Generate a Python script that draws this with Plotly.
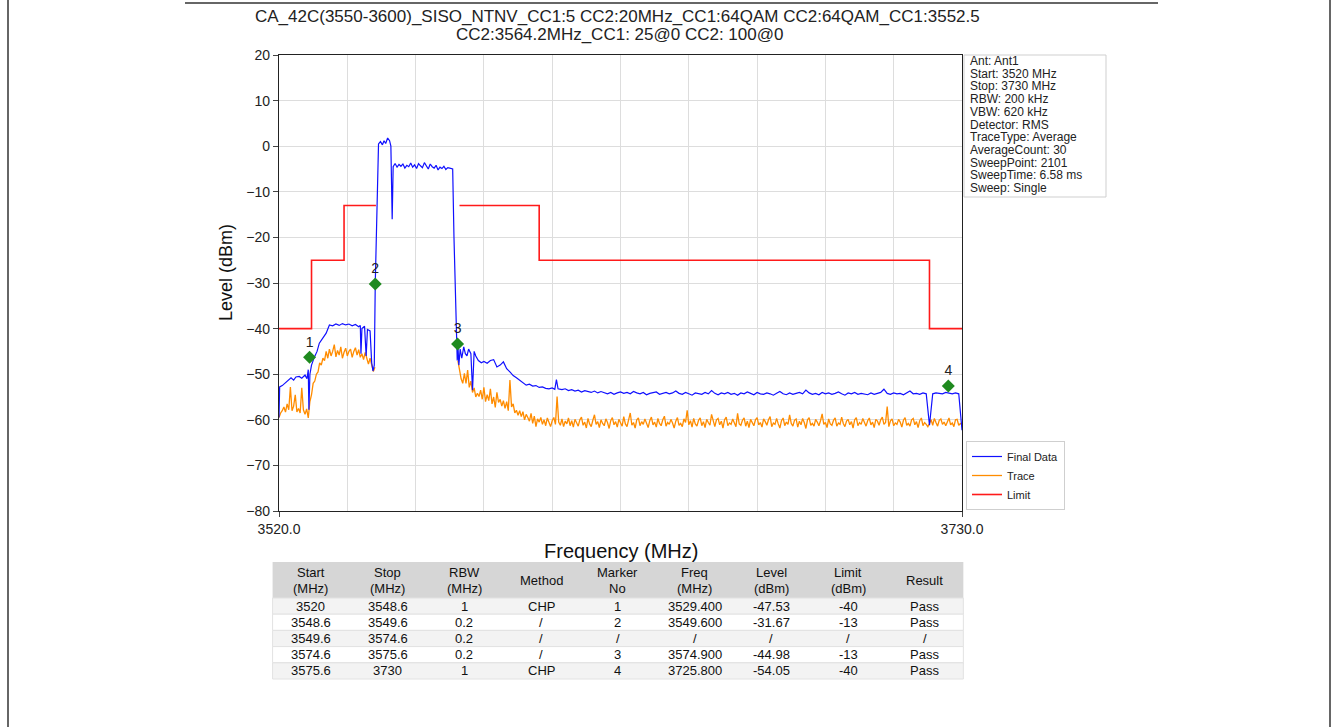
import plotly.graph_objects as go

# ---------------- data ----------------
final_head_freq = [
    3520.0, 3520.2, 3521.0, 3522.0, 3523.0, 3523.7, 3524.5, 3525.2, 3526.2, 3527.0,
    3528.0, 3528.6, 3529.0, 3529.2, 3529.5, 3530.0, 3530.9, 3531.7, 3532.4, 3533.5,
    3534.5, 3535.5, 3536.5, 3537.5, 3538.5, 3539.5, 3540.5, 3541.5, 3542.5, 3543.5,
    3544.5, 3545.0, 3545.2, 3545.5, 3546.3, 3546.8, 3547.2, 3548.0, 3548.5, 3548.9,
    3549.3, 3549.6, 3550.3, 3550.6, 3551.2, 3551.8, 3552.3, 3552.8, 3553.4, 3554.0,
    3554.4, 3554.8, 3555.1, 3555.7, 3556.3, 3556.9, 3557.5, 3558.1, 3558.7, 3559.3,
    3559.9, 3560.5, 3561.1, 3561.7, 3562.3, 3562.9, 3563.5, 3564.1, 3564.7, 3565.3,
    3565.9, 3566.5, 3567.1, 3567.7, 3568.3, 3568.9, 3569.5, 3570.1, 3570.7, 3571.3,
    3571.9, 3572.5, 3573.1, 3573.4, 3573.8, 3574.5, 3574.8, 3575.0, 3575.3, 3575.7,
    3576.2, 3576.8, 3577.3, 3577.8, 3578.3, 3579.0, 3579.5, 3580.0, 3580.5, 3581.3,
    3582.2, 3583.0, 3584.0, 3585.0, 3586.0, 3587.0, 3588.0, 3589.0, 3590.0, 3591.0,
    3592.0, 3593.0, 3594.0, 3595.0, 3596.0, 3597.0, 3598.0, 3599.0, 3600.0, 3601.0,
    3602.0, 3603.0, 3604.0, 3604.8, 3605.3, 3605.8, 3607.0, 3608.0, 3609.0,
]
final_head_level = [
    -59.5, -52.8, -52.5, -51.8, -51.2, -50.8, -51.3, -50.6, -50.5, -50.9,
    -50.2, -51.0, -49.0, -57.8, -50.0, -48.0, -46.2, -45.0, -43.2, -42.0,
    -41.0, -39.2, -39.4, -39.0, -39.3, -38.9, -39.2, -39.0, -39.4, -39.1,
    -39.6, -39.3, -45.5, -40.0, -39.5, -46.0, -40.2, -40.5, -47.5, -49.3,
    -48.0, -30.0, -10.0, 0.5, 1.0, 0.3, 1.2, 0.6, 1.8, 1.2,
    0.0, -16.0, -4.5, -3.8, -4.6, -4.0, -4.4, -3.9, -4.8, -4.2,
    -4.5, -3.7, -4.6, -4.1, -4.9, -3.8, -4.3, -4.7, -3.6, -4.4,
    -5.0, -3.9, -4.5, -4.8, -4.2, -5.2, -4.6, -4.9, -4.4, -5.1,
    -4.7, -4.8, -5.0, -5.0, -20.0, -44.5, -47.0, -43.5, -48.0, -44.5,
    -46.5, -44.0, -45.5, -46.0, -44.5, -45.5, -53.5, -45.0, -46.0, -47.0,
    -47.5, -47.2, -47.6, -47.0, -46.8, -48.4, -48.0, -47.3, -48.8, -49.5,
    -50.3, -50.8, -51.3, -51.8, -52.4, -52.2, -52.6, -52.5, -52.9, -52.8,
    -53.1, -53.2, -53.0, -53.3, -51.2, -53.2, -53.4, -53.2, -53.6,
]
# 3610 .. 3730 MHz, 1 MHz apart
final_tail_start = 3610
final_tail_level = [
    -53.4, -53.7, -53.5, -53.9, -53.6, -53.8, -54.0, -53.7, -54.1, -53.8,
    -54.0, -54.3, -54.0, -54.4, -54.1, -53.9, -54.2, -54.0, -54.3, -53.8,
    -54.1, -54.3, -54.0, -54.5, -54.2, -54.1, -53.9, -54.4, -54.2, -54.0,
    -54.3, -54.1, -53.7, -54.2, -54.4, -54.0, -54.3, -54.6, -54.1, -54.2,
    -54.4, -54.0, -54.3, -53.6, -54.2, -54.5, -54.1, -54.3, -54.0, -54.4,
    -54.2, -54.6, -54.1, -54.3, -53.9, -54.2, -54.5, -54.0, -54.3, -54.4,
    -54.1, -54.3, -54.6, -54.2, -53.8, -54.3, -54.5, -54.1, -54.4, -54.2,
    -54.0, -54.3, -53.5, -54.1, -54.4, -54.2, -54.5, -54.0, -54.3, -54.1,
    -54.4, -54.2, -53.9, -54.3, -54.6, -54.1, -54.3, -54.0, -54.4, -54.2,
    -54.3, -54.5, -54.1, -54.4, -54.2, -54.0, -53.3, -54.2, -54.4, -54.1,
    -54.3, -54.2, -54.5, -54.1, -53.7, -54.3, -54.2, -54.4, -54.1, -54.3,
    -61.2, -54.3, -54.1, -54.2, -54.3, -54.0, -54.2, -54.3, -54.1, -54.3,
    -62.3,
]

# Trace (orange), 0.5 MHz apart: 3520 .. 3549.5 and 3575 .. 3730
trace_lo_start = 3520.0
trace_lo_level = [
    -59.5, -58.5, -58.0, -57.2, -58.3, -56.5, -57.8, -52.8, -58.0, -57.0,
    -54.5, -58.3, -57.5, -58.5, -53.0, -57.8, -58.8, -57.6, -59.6, -56.0,
    -54.5, -52.0, -51.5, -50.0, -49.5, -47.5, -48.0, -46.5, -47.0, -45.0,
    -46.5, -44.5, -46.0, -45.0, -43.5, -46.2, -44.8, -45.8, -44.0, -46.5,
    -45.2, -44.3, -46.0, -45.0, -44.5, -46.3, -45.0, -44.2, -45.8, -44.6,
    -46.3, -45.5, -46.8, -45.2, -46.5, -47.8, -46.5, -48.2, -49.4, -48.5,
]
trace_hi_start = 3575.0
trace_hi_level = [
    -47.0, -49.5, -51.0, -52.0, -49.8, -52.0, -49.1, -52.9, -51.5, -54.0,
    -53.0, -55.0, -54.2, -54.9, -53.5, -55.5, -52.9, -56.0, -54.5, -55.8,
    -53.2, -56.5, -55.0, -57.3, -54.0, -56.2, -55.5, -57.0, -55.8, -57.5,
    -56.0, -58.0, -51.3, -57.2, -56.5, -58.5, -57.9, -59.0, -58.0, -59.3,
    -58.2, -60.0, -58.8, -59.5, -60.3, -58.6, -60.8, -59.2, -61.5, -59.8,
    -60.5, -59.5, -61.0, -60.0, -61.3, -59.6, -60.8, -61.5, -60.2, -59.5,
    -61.0, -54.9, -60.5, -61.2, -59.8, -61.5, -60.3, -60.9, -59.6, -61.3,
    -60.2, -61.6, -59.9, -60.8, -61.4, -60.0, -59.4, -61.2, -60.5, -61.8,
    -59.7, -60.9, -61.5, -60.1, -58.9, -61.0, -60.4, -61.7, -60.0, -60.8,
    -61.3, -59.8, -60.6, -61.9, -60.2, -59.5, -61.1, -60.4, -61.6, -59.9,
    -60.7, -61.4, -59.3, -60.9, -61.5, -60.1, -58.5, -61.2, -60.6, -61.8,
    -60.0, -59.6, -61.3, -60.4, -61.0, -59.8, -60.9, -61.7, -60.2, -59.4,
    -61.1, -60.5, -61.6, -59.7, -60.8, -61.3, -60.0, -59.2, -61.4, -60.6,
    -61.0, -59.9, -60.7, -61.8, -60.3, -59.5, -61.2, -60.8, -61.5, -59.8,
    -60.6, -57.9, -61.1, -60.2, -61.6, -59.7, -60.9, -61.4, -60.1, -59.6,
    -61.3, -60.4, -61.7, -59.9, -60.6, -61.2, -58.8, -60.5, -61.5, -60.0,
    -59.7, -61.1, -60.3, -61.8, -60.0, -59.4, -61.3, -60.7, -61.0, -59.8,
    -60.6, -61.5, -58.6, -60.9, -61.2, -60.1, -59.6, -61.4, -60.3, -61.7,
    -59.9, -60.8, -61.3, -60.0, -59.5, -61.1, -60.6, -61.6, -59.8, -60.4,
    -61.2, -60.0, -59.3, -61.5, -60.7, -61.0, -59.7, -60.9, -61.8, -60.2,
    -59.6, -61.3, -60.5, -61.0, -58.9, -60.8, -61.4, -60.1, -59.8, -61.6,
    -60.3, -61.1, -59.7, -60.6, -61.9, -60.0, -59.5, -61.2, -60.8, -61.4,
    -59.9, -60.5, -61.3, -60.2, -58.7, -61.0, -60.6, -61.7, -59.8, -60.9,
    -61.2, -60.1, -59.6, -61.4, -60.7, -61.0, -59.4, -60.8, -61.5, -60.3,
    -59.9, -61.1, -60.4, -61.8, -60.0, -59.5, -61.3, -60.6, -61.0, -59.7,
    -60.8, -61.4, -60.2, -59.6, -61.1, -60.5, -61.7, -59.9, -60.3, -61.2,
    -60.0, -59.4, -61.0, -60.6, -57.1, -61.5, -60.2, -59.8, -61.3, -60.7,
    -61.0, -59.9, -60.5, -61.6, -60.1, -59.5, -61.2, -60.8, -61.4, -60.0,
    -59.7, -61.1, -60.4, -61.7, -60.2, -59.6, -61.3, -60.6, -61.0, -61.5,
    -60.8, -60.0, -61.2, -59.7, -60.6, -61.4, -60.1, -59.8, -61.0, -60.5,
    -61.3, -60.2, -59.6, -61.1, -60.7, -61.5, -60.0, -59.9, -61.2, -60.8,
    -61.0,
]

# Limit segments
limit_start = [3520, 3530, 3540, 3575.5, 3600, 3720]
limit_stop = [3530, 3540, 3549.8, 3600, 3720, 3730]
limit_level = [-40, -25, -13, -13, -25, -40]

# Markers
marker_no = ["1", "2", "3", "4"]
marker_freq = [3529.4, 3549.6, 3574.9, 3725.8]
marker_level = [-46.3, -30.2, -43.4, -52.6]

# Axis ticks
x_min, x_max, x_grid_step = 3520, 3730, 21
x_tick_vals = [3520, 3730]
x_tick_text = ["3520.0", "3730.0"]
y_tick_vals = [-80, -70, -60, -50, -40, -30, -20, -10, 0, 10, 20]

title_line1 = "CA_42C(3550-3600)_SISO_NTNV_CC1:5 CC2:20MHz_CC1:64QAM CC2:64QAM_CC1:3552.5"
title_line2 = "CC2:3564.2MHz_CC1: 25@0 CC2: 100@0"

info_lines = [
    "Ant: Ant1", "Start: 3520 MHz", "Stop: 3730 MHz", "RBW: 200 kHz", "VBW: 620 kHz",
    "Detector: RMS", "TraceType: Average", "AverageCount: 30", "SweepPoint: 2101",
    "SweepTime: 6.58 ms", "Sweep: Single",
]

# Table
tbl_header = [["Start", "(MHz)"], ["Stop", "(MHz)"], ["RBW", "(MHz)"], ["Method"],
              ["Marker", "No"], ["Freq", "(MHz)"], ["Level", "(dBm)"], ["Limit", "(dBm)"],
              ["Result"]]
tbl_start = ["3520", "3548.6", "3549.6", "3574.6", "3575.6"]
tbl_stop = ["3548.6", "3549.6", "3574.6", "3575.6", "3730"]
tbl_rbw = ["1", "0.2", "0.2", "0.2", "1"]
tbl_method = ["CHP", "/", "/", "/", "CHP"]
tbl_marker = ["1", "2", "/", "3", "4"]
tbl_freq = ["3529.400", "3549.600", "/", "3574.900", "3725.800"]
tbl_level = ["-47.53", "-31.67", "/", "-44.98", "-54.05"]
tbl_limit = ["-40", "-13", "/", "-13", "-40"]
tbl_result = ["Pass", "Pass", "/", "Pass", "Pass"]

# ---------------- layout helpers ----------------
W, H = 1338, 727
M_L, M_R, M_T, M_B = 270, 368, 55, 40
PW, PH = W - M_L - M_R, H - M_T - M_B


def px(x):
    return (x - M_L) / PW


def py(y):
    return (H - M_B - y) / PH


FONT = "Liberation Sans, Arial, sans-serif"

# ---------------- build series ----------------
final_freq = final_head_freq + [final_tail_start + i for i in range(len(final_tail_level))]
final_level = final_head_level + final_tail_level

trace_freq = ([trace_lo_start + 0.5 * i for i in range(len(trace_lo_level))] + [None]
              + [trace_hi_start + 0.5 * i for i in range(len(trace_hi_level))])
trace_level = trace_lo_level + [None] + trace_hi_level

lim_x, lim_y = [], []
for i, (a, b, v) in enumerate(zip(limit_start, limit_stop, limit_level)):
    if i > 0 and a != limit_stop[i - 1]:
        lim_x.append(None)
        lim_y.append(None)
    lim_x += [a, b]
    lim_y += [v, v]

fig = go.Figure()
fig.add_trace(go.Scatter(x=trace_freq, y=trace_level, mode="lines", name="Trace",
                         line=dict(color="#ff8c00", width=1.3), legendrank=2,
                         connectgaps=False))
fig.add_trace(go.Scatter(x=final_freq, y=final_level, mode="lines", name="Final Data",
                         line=dict(color="#1010ff", width=1.2), legendrank=1))
fig.add_trace(go.Scatter(x=lim_x, y=lim_y, mode="lines", name="Limit",
                         line=dict(color="#ff1a1a", width=1.6), legendrank=3,
                         connectgaps=False))
fig.add_trace(go.Scatter(x=marker_freq, y=marker_level, mode="markers+text",
                         text=marker_no, textposition="top center",
                         textfont=dict(size=14, color="#222222", family=FONT),
                         marker=dict(symbol="diamond", size=10, color="#1f8a1f"),
                         showlegend=False))


def ann(text, x, y, size, xanchor="center", angle=0, color="#222222"):
    return dict(text=text, x=px(x), y=py(y), xref="paper", yref="paper",
                xanchor=xanchor, yanchor="middle", showarrow=False, textangle=angle,
                font=dict(family=FONT, size=size, color=color))


annotations = [
    ann(title_line1, 617, 17, 17),
    ann(title_line2, 619, 34, 17),
    ann("Frequency (MHz)", 621, 551, 20, color="#111111"),
    ann("Level (dBm)", 226, 273, 18, angle=-90, color="#111111"),
]
for i, line in enumerate(info_lines):
    annotations.append(ann(line, 968, 61 + 12.7 * i, 12, xanchor="left"))

shapes = [
    dict(type="rect", xref="paper", yref="paper", x0=px(964), x1=px(1106),
         y0=py(197), y1=py(55), line=dict(color="#cfcfcf", width=1)),
    dict(type="line", xref="paper", yref="paper", x0=px(8), x1=px(8), y0=py(0), y1=py(727),
         line=dict(color="#333333", width=1.5)),
    dict(type="line", xref="paper", yref="paper", x0=px(1330), x1=px(1330), y0=py(0),
         y1=py(727), line=dict(color="#333333", width=1.5)),
    dict(type="line", xref="paper", yref="paper", x0=px(185), x1=px(1158), y0=py(3),
         y1=py(3), line=dict(color="#333333", width=1.5)),
]

# ---- table drawn with shapes + annotations ----
tbl_cols = [tbl_start, tbl_stop, tbl_rbw, tbl_method, tbl_marker, tbl_freq, tbl_level,
            tbl_limit, tbl_result]
tbl_left, col_w = 272.6, 76.75
hdr_top, hdr_bot, row_h = 562, 598, 16.2
tbl_right = tbl_left + col_w * len(tbl_cols)
shapes.append(dict(type="rect", xref="paper", yref="paper", x0=px(tbl_left), x1=px(tbl_right),
                   y0=py(hdr_bot), y1=py(hdr_top), line=dict(width=0), fillcolor="#d6d6d6",
                   layer="below"))
n_rows = len(tbl_start)
for r in range(n_rows):
    top = hdr_bot + r * row_h
    shapes.append(dict(type="rect", xref="paper", yref="paper", x0=px(tbl_left),
                       x1=px(tbl_right), y0=py(top + row_h), y1=py(top),
                       line=dict(color="#e2e2e2", width=1),
                       fillcolor="#f3f3f3" if r % 2 == 0 else "#ffffff", layer="below"))
for c, (hdr, col) in enumerate(zip(tbl_header, tbl_cols)):
    cx = tbl_left + col_w * (c + 0.5)
    if len(hdr) == 2:
        annotations.append(ann(hdr[0], cx, 572, 13, color="#111111"))
        annotations.append(ann(hdr[1], cx, 588, 13, color="#111111"))
    else:
        annotations.append(ann(hdr[0], cx, 580, 13, color="#111111"))
    for r, val in enumerate(col):
        annotations.append(ann(val, cx, hdr_bot + r * row_h + row_h / 2, 13,
                               color="#111111"))

fig.update_layout(
    width=W, height=H,
    margin=dict(l=M_L, r=M_R, t=M_T, b=M_B, autoexpand=False),
    paper_bgcolor="white", plot_bgcolor="white",
    font=dict(family=FONT, color="#222222"),
    annotations=annotations, shapes=shapes,
    legend=dict(x=px(966), y=py(510), xanchor="left", yanchor="bottom",
                bgcolor="white", bordercolor="#cfcfcf", borderwidth=1,
                font=dict(family=FONT, size=11, color="#222222"),
                tracegroupgap=0),
    xaxis=dict(domain=[px(279), px(962)], range=[x_min, x_max],
               tickvals=x_tick_vals, ticktext=x_tick_text, ticks="outside", ticklen=5,
               tickfont=dict(size=14, family=FONT, color="#222222"),
               showgrid=False, zeroline=False, showline=True, mirror=True,
               linecolor="#222222", linewidth=1.2,
               minor=dict(tick0=x_min, dtick=x_grid_step, showgrid=True,
                          gridcolor="#dddddd", gridwidth=1, ticks="")),
    yaxis=dict(domain=[py(511), py(55)], range=[-80, 20], tickvals=y_tick_vals,
               ticks="outside", ticklen=5,
               tickfont=dict(size=14, family=FONT, color="#222222"),
               showgrid=True, gridcolor="#dddddd", gridwidth=1, zeroline=False,
               showline=True, mirror=True, linecolor="#222222", linewidth=1.2),
)

fig.write_html("out.html", config={"displayModeBar": False},
               post_script="document.body.style.margin='0px';")
